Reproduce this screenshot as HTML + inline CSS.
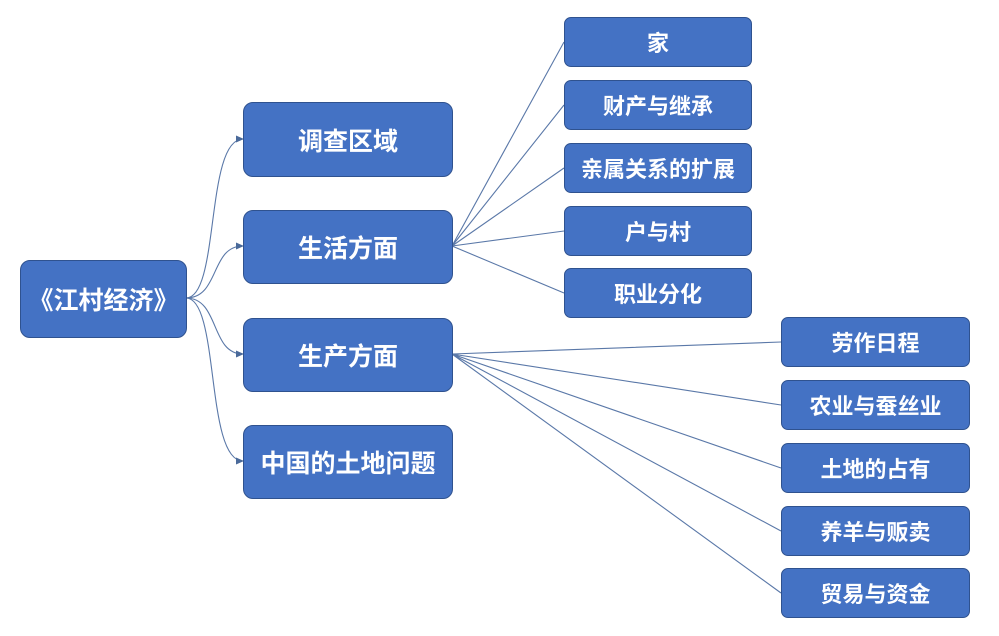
<!DOCTYPE html>
<html><head><meta charset="utf-8"><style>
body{margin:0;background:#fff;width:999px;height:636px;overflow:hidden;font-family:"Liberation Sans","Noto Sans CJK SC",sans-serif}
.b{position:absolute;background:#4472C4;border:1.5px solid #2F528F;border-radius:10px;color:#fff;font-weight:bold;display:flex;align-items:center;justify-content:center;box-sizing:border-box}
.l{font-size:25px}.s{font-size:22px;border-radius:7px}
</style></head><body>
<svg width="999" height="636" style="position:absolute;left:0;top:0">
<defs><marker id="a" markerWidth="8" markerHeight="8" refX="7" refY="4" orient="auto" markerUnits="userSpaceOnUse"><path d="M0,0.5 L8,4 L0,7.5z" fill="#4a6a9a"/></marker></defs>
<g fill="none" stroke="#5a78a8" stroke-width="1.1">
<path d="M186,298 C220,298 205,139 243,139" marker-end="url(#a)"/>
<path d="M186,298 C220,298 210,246 243,246" marker-end="url(#a)"/>
<path d="M186,298 C220,298 210,354 243,354" marker-end="url(#a)"/>
<path d="M186,298 C220,298 205,461 243,461" marker-end="url(#a)"/>
<path d="M452,246 L564,42 M452,246 L564,105 M452,246 L564,168 M452,246 L564,231 M452,246 L564,293"/>
<path d="M452,354 L781,342 M452,354 L781,405 M452,354 L781,468 M452,354 L781,531 M452,354 L781,593"/>
</g></svg>
<div class="b l" style="left:20px;top:260px;width:167px;height:78px">《江村经济》</div>
<div class="b l" style="left:243px;top:102px;width:210px;height:75px">调查区域</div>
<div class="b l" style="left:243px;top:210px;width:210px;height:74px">生活方面</div>
<div class="b l" style="left:243px;top:318px;width:210px;height:74px">生产方面</div>
<div class="b l" style="left:243px;top:425px;width:210px;height:74px">中国的土地问题</div>
<div class="b s" style="left:564px;top:17px;width:188px;height:50px">家</div>
<div class="b s" style="left:564px;top:80px;width:188px;height:50px">财产与继承</div>
<div class="b s" style="left:564px;top:143px;width:188px;height:50px">亲属关系的扩展</div>
<div class="b s" style="left:564px;top:206px;width:188px;height:50px">户与村</div>
<div class="b s" style="left:564px;top:268px;width:188px;height:50px">职业分化</div>
<div class="b s" style="left:781px;top:317px;width:189px;height:50px">劳作日程</div>
<div class="b s" style="left:781px;top:380px;width:189px;height:50px">农业与蚕丝业</div>
<div class="b s" style="left:781px;top:443px;width:189px;height:50px">土地的占有</div>
<div class="b s" style="left:781px;top:506px;width:189px;height:50px">养羊与贩卖</div>
<div class="b s" style="left:781px;top:568px;width:189px;height:50px">贸易与资金</div>
</body></html>
